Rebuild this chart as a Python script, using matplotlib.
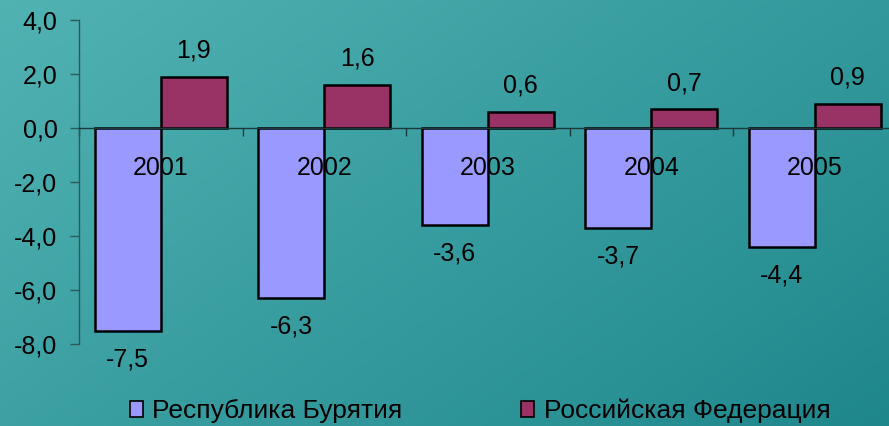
import numpy as np
import matplotlib
matplotlib.use("Agg")
import matplotlib.pyplot as plt
from matplotlib.patches import Patch

years = ["2001", "2002", "2003", "2004", "2005"]
buryatia = [-7.5, -6.3, -3.6, -3.7, -4.4]
russia = [1.9, 1.6, 0.6, 0.7, 0.9]
series_names = ["Республика Бурятия", "Российская Федерация"]
yticks = [4.0, 2.0, 0.0, -2.0, -4.0, -6.0, -8.0]

def fmt(v):
    return f"{v:.1f}".replace(".", ",")

plt.rcParams['font.family'] = ['Liberation Sans', 'DejaVu Sans']
FS = 18

W, H = 889, 426
fig = plt.figure(figsize=(W/100, H/100), dpi=100)

# gradient background
bg = fig.add_axes([0, 0, 1, 1], zorder=-10)
bg.set_axis_off()
yy, xx = np.mgrid[0:1:200j, 0:1:400j]
t = (xx * 0.6 + yy * 0.4)
c0 = np.array([0.32, 0.70, 0.70])
c1 = np.array([0.12, 0.53, 0.55])
img = c0[None, None, :] * (1 - t[..., None]) + c1[None, None, :] * t[..., None]
bg.imshow(img, aspect='auto', extent=[0, 1, 0, 1], origin='upper')

left = 79 / W
bottom = (H - 344) / H
height = (344 - 20) / H
width = 817.5 / W
ax = fig.add_axes([left, bottom, width, height])
ax.patch.set_alpha(0)

x = np.arange(len(years))
bw = 0.404
ax.bar(x - bw/2, buryatia, bw, color='#9999ff', edgecolor='black', linewidth=1.8, zorder=3)
ax.bar(x + bw/2, russia, bw, color='#993366', edgecolor='black', linewidth=1.8, zorder=3)

ax.set_xlim(-0.5, len(years) - 0.5)
ax.set_ylim(-8, 4)
ax.set_yticks(yticks)
ax.set_yticklabels([fmt(v) for v in yticks], fontsize=FS, color='black')
ax.tick_params(axis='y', direction='out', length=6.5, width=1, color='#2a5a5a', pad=9)

for s in ['top', 'right']:
    ax.spines[s].set_visible(False)
ax.spines['left'].set_color('#2a5a5a')
ax.spines['left'].set_linewidth(1)
ax.spines['bottom'].set_position(('data', 0))
ax.spines['bottom'].set_color('#1a3a3a')
ax.spines['bottom'].set_linewidth(1)
ax.spines['bottom'].set_zorder(4)

ax.set_xticks(np.arange(len(years) + 1) - 0.5)
ax.set_xticklabels([])
ax.tick_params(axis='x', which='major', direction='out', length=6, width=1, color='#1a3a3a')

# category labels drawn over the bars
for xi, yr in zip(x, years):
    ax.annotate(yr, (xi, 0), xytext=(0, -29), textcoords='offset points',
                ha='center', va='center', fontsize=FS, zorder=6)

for xi, v in zip(x, russia):
    ax.annotate(fmt(v), (xi + bw/2, v), xytext=(0, 10), textcoords='offset points',
                ha='center', va='bottom', fontsize=FS)
for xi, v in zip(x, buryatia):
    ax.annotate(fmt(v), (xi - bw/2, v), xytext=(0, -12), textcoords='offset points',
                ha='center', va='top', fontsize=FS)

# legend
handles = [Patch(facecolor='#9999ff', edgecolor='black', linewidth=1.2),
           Patch(facecolor='#993366', edgecolor='black', linewidth=1.2)]
leg = fig.legend(handles, series_names, loc='center', bbox_to_anchor=(0.54, 0.035),
                 ncol=2, frameon=False, handlelength=0.5, handleheight=0.6,
                 handletextpad=0.35, columnspacing=4.5, prop={'size': 19})

fig.savefig("out.png", dpi=100)
